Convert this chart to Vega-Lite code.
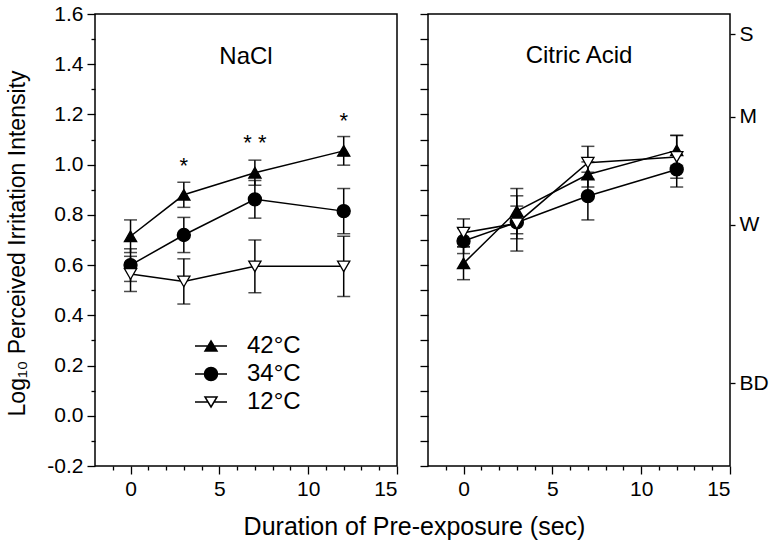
{
  "$schema": "https://vega.github.io/schema/vega-lite/v6.json",
  "padding": {"left": 5, "top": 2, "right": 5, "bottom": 5},
  "spacing": 31,
  "bounds": "flush",
  "datasets": {
    "d": [
      {"panel": "NaCl", "series": "42°C", "t": 0, "v": 0.715, "se": 0.065},
      {"panel": "NaCl", "series": "42°C", "t": 3, "v": 0.88, "se": 0.05},
      {"panel": "NaCl", "series": "42°C", "t": 7, "v": 0.968, "se": 0.05},
      {"panel": "NaCl", "series": "42°C", "t": 12, "v": 1.055, "se": 0.057},
      {"panel": "NaCl", "series": "34°C", "t": 0, "v": 0.6, "se": 0.065},
      {"panel": "NaCl", "series": "34°C", "t": 3, "v": 0.72, "se": 0.07},
      {"panel": "NaCl", "series": "34°C", "t": 7, "v": 0.862, "se": 0.075},
      {"panel": "NaCl", "series": "34°C", "t": 12, "v": 0.815, "se": 0.09},
      {"panel": "NaCl", "series": "12°C", "t": 0, "v": 0.565, "se": 0.07},
      {"panel": "NaCl", "series": "12°C", "t": 3, "v": 0.535, "se": 0.09},
      {"panel": "NaCl", "series": "12°C", "t": 7, "v": 0.595, "se": 0.105},
      {"panel": "NaCl", "series": "12°C", "t": 12, "v": 0.595, "se": 0.12},
      {"panel": "Citric Acid", "series": "42°C", "t": 0, "v": 0.607, "se": 0.065},
      {"panel": "Citric Acid", "series": "42°C", "t": 3, "v": 0.815, "se": 0.09},
      {"panel": "Citric Acid", "series": "42°C", "t": 7, "v": 0.961, "se": 0.05},
      {"panel": "Citric Acid", "series": "42°C", "t": 12, "v": 1.057, "se": 0.06},
      {"panel": "Citric Acid", "series": "34°C", "t": 0, "v": 0.696, "se": 0.05},
      {"panel": "Citric Acid", "series": "34°C", "t": 3, "v": 0.77, "se": 0.065},
      {"panel": "Citric Acid", "series": "34°C", "t": 7, "v": 0.875, "se": 0.095},
      {"panel": "Citric Acid", "series": "34°C", "t": 12, "v": 0.981, "se": 0.07},
      {"panel": "Citric Acid", "series": "12°C", "t": 0, "v": 0.729, "se": 0.055},
      {"panel": "Citric Acid", "series": "12°C", "t": 3, "v": 0.766, "se": 0.11},
      {"panel": "Citric Acid", "series": "12°C", "t": 7, "v": 1.008, "se": 0.065},
      {"panel": "Citric Acid", "series": "12°C", "t": 12, "v": 1.031, "se": 0.085}
    ],
    "stars": [
      {"t": 3, "v": 0.967, "s": "*"},
      {"t": 7, "v": 1.058, "s": "* *"},
      {"t": 12, "v": 1.146, "s": "*"}
    ]
  },
  "hconcat": [
    {
      "width": 302,
      "height": 452,
      "title": {"text": "NaCl", "orient": "top", "anchor": "middle", "offset": -66, "fontSize": 24, "fontWeight": "normal", "font": "Liberation Sans", "color": "black"},
      "data": {"name": "d"},
      "transform": [{"filter": "datum.panel === 'NaCl'"}],
      "resolve": {"axis": {"x": "independent", "y": "independent"}},
      "layer": [
        {
          "mark": {"type": "line", "color": "black", "strokeWidth": 1.5},
          "encoding": {
            "x": {"field": "t", "type": "quantitative", "scale": {"domain": [-2, 15], "nice": false, "zero": false},
                  "axis": {"orient": "bottom", "values": [0, 5, 10, 15], "tickSize": 8, "labelPadding": 4, "title": "Duration of Pre-exposure (sec)", "titleX": 319, "titleY": 60, "titleAlign": "center", "titleBaseline": "middle", "titleFontSize": 25}},
            "y": {"field": "v", "type": "quantitative", "scale": {"domain": [-0.2, 1.6], "nice": false, "zero": false},
                  "axis": {"orient": "left", "values": [-0.2, 0, 0.2, 0.4, 0.6, 0.8, 1, 1.2, 1.4, 1.6], "tickSize": 8, "labelPadding": 4,
                           "labelExpr": "datum.value < 0 ? '-' + format(-datum.value, '.1f') : format(datum.value, '.1f')",
                           "title": "Log₁₀ Perceived Irritation Intensity", "titleX": -78, "titleY": 229, "titleAngle": -90, "titleAlign": "center", "titleBaseline": "middle", "titleFontSize": 23}},
            "detail": {"field": "series"}
          }
        },
        {
          "mark": {"type": "errorbar", "color": "black", "ticks": {"size": 13, "thickness": 1.5}, "rule": {"strokeWidth": 1.5}},
          "encoding": {
            "x": {"field": "t", "type": "quantitative", "axis": null},
            "y": {"field": "v", "type": "quantitative", "axis": null},
            "yError": {"field": "se"},
            "detail": {"field": "series"}
          }
        },
        {
          "mark": {"type": "point", "filled": true, "stroke": "black", "strokeWidth": 1.3, "opacity": 1},
          "encoding": {
            "x": {"field": "t", "type": "quantitative",
                  "axis": {"orient": "bottom", "values": [-1, 1, 2, 3, 4, 6, 7, 8, 9, 11, 12, 13, 14], "tickSize": 4, "labels": false, "title": null}},
            "y": {"field": "v", "type": "quantitative",
                  "axis": {"orient": "left", "values": [-0.1, 0.1, 0.3, 0.5, 0.7, 0.9, 1.1, 1.3, 1.5], "tickSize": 4, "labels": false, "title": null}},
            "shape": {"condition": [{"test": "datum.series === '42°C'", "value": "triangle-up"}, {"test": "datum.series === '12°C'", "value": "triangle-down"}], "value": "circle"},
            "fill": {"condition": {"test": "datum.series === '12°C'", "value": "white"}, "value": "black"},
            "size": {"condition": {"test": "datum.series === '34°C'", "value": 170}, "value": 150}
          }
        },
        {
          "transform": [{"filter": "false"}],
          "mark": {"type": "point", "filled": true, "stroke": "black", "strokeWidth": 1.5},
          "encoding": {
            "x": {"field": "t", "type": "quantitative", "axis": null},
            "y": {"field": "v", "type": "quantitative", "axis": null},
            "shape": {"field": "series", "type": "nominal",
                      "scale": {"domain": ["42°C", "34°C", "12°C"],
                                "range": ["M-1.6,0H-0.3M0.3,0H1.6M0,-0.5L0.6,0.5L-0.6,0.5Z",
                                          "M-1.6,0H-0.65M0.65,0H1.6M-0.65,0A0.65,0.65,0,1,0,0.65,0A0.65,0.65,0,1,0,-0.65,0Z",
                                          "M-1.6,0H-0.3M0.3,0H1.6M0,0.5L0.6,-0.5L-0.6,-0.5Z"]},
                      "legend": {"orient": "none", "legendX": 104, "legendY": 320, "title": null, "padding": 0, "rowPadding": 4, "labelOffset": 24,
                                 "symbolSize": 400, "symbolStrokeColor": "black", "symbolStrokeWidth": 1.5, "symbolOpacity": 1,
                                 "labelFontSize": 24, "labelFont": "Liberation Sans", "labelColor": "black"}},
            "fill": {"field": "series", "type": "nominal",
                     "scale": {"domain": ["42°C", "34°C", "12°C"], "range": ["black", "black", "white"]},
                     "legend": {"orient": "none", "legendX": 104, "legendY": 320, "title": null, "padding": 0, "rowPadding": 4, "labelOffset": 24,
                                "symbolSize": 400, "symbolStrokeColor": "black", "symbolStrokeWidth": 1.5, "symbolOpacity": 1,
                                "labelFontSize": 24, "labelFont": "Liberation Sans", "labelColor": "black"}},
            "stroke": {"field": "series", "type": "nominal",
                       "scale": {"domain": ["42°C", "34°C", "12°C"], "range": ["black", "black", "black"]},
                       "legend": {"orient": "none", "legendX": 104, "legendY": 320, "title": null, "padding": 0, "rowPadding": 4, "labelOffset": 24,
                                  "symbolSize": 400, "symbolStrokeColor": "black", "symbolStrokeWidth": 1.5, "symbolOpacity": 1,
                                  "labelFontSize": 24, "labelFont": "Liberation Sans", "labelColor": "black"}}
          }
        },
        {
          "data": {"name": "stars"},
          "mark": {"type": "text", "fontSize": 22, "baseline": "alphabetic", "color": "black", "font": "Liberation Sans"},
          "encoding": {
            "x": {"field": "t", "type": "quantitative", "axis": null},
            "y": {"field": "v", "type": "quantitative", "axis": null},
            "text": {"field": "s"}
          }
        }
      ]
    },
    {
      "width": 302,
      "height": 452,
      "title": {"text": "Citric Acid", "orient": "top", "anchor": "middle", "offset": -55, "fontSize": 24, "fontWeight": "normal", "font": "Liberation Sans", "color": "black"},
      "data": {"name": "d"},
      "transform": [{"filter": "datum.panel === 'Citric Acid'"}],
      "resolve": {"axis": {"x": "independent", "y": "independent"}},
      "layer": [
        {
          "mark": {"type": "line", "color": "black", "strokeWidth": 1.5},
          "encoding": {
            "x": {"field": "t", "type": "quantitative", "scale": {"domain": [-2, 15], "nice": false, "zero": false},
                  "axis": {"orient": "bottom", "values": [0, 5, 10, 15], "tickSize": 8, "labelPadding": 4, "title": null}},
            "y": {"field": "v", "type": "quantitative", "scale": {"domain": [-0.2, 1.6], "nice": false, "zero": false},
                  "axis": {"orient": "left", "values": [-0.2, -0.1, 0, 0.1, 0.2, 0.3, 0.4, 0.5, 0.6, 0.7, 0.8, 0.9, 1, 1.1, 1.2, 1.3, 1.4, 1.5, 1.6], "tickSize": 8, "labels": false, "title": null}},
            "detail": {"field": "series"}
          }
        },
        {
          "mark": {"type": "errorbar", "color": "black", "ticks": {"size": 13, "thickness": 1.5}, "rule": {"strokeWidth": 1.5}},
          "encoding": {
            "x": {"field": "t", "type": "quantitative", "axis": null},
            "y": {"field": "v", "type": "quantitative", "axis": null},
            "yError": {"field": "se"},
            "detail": {"field": "series"}
          }
        },
        {
          "mark": {"type": "point", "filled": true, "stroke": "black", "strokeWidth": 1.3, "opacity": 1},
          "encoding": {
            "x": {"field": "t", "type": "quantitative",
                  "axis": {"orient": "bottom", "values": [-1, 1, 2, 3, 4, 6, 7, 8, 9, 11, 12, 13, 14], "tickSize": 4, "labels": false, "title": null}},
            "y": {"field": "v", "type": "quantitative",
                  "axis": {"orient": "right", "values": [1.52, 1.19, 0.76, 0.13], "tickSize": 5, "labelPadding": 4, "labelFontSize": 21,
                           "labelExpr": "datum.value > 1.4 ? 'S' : datum.value > 1 ? 'M' : datum.value > 0.5 ? 'W' : 'BD'", "title": null}},
            "shape": {"condition": [{"test": "datum.series === '42°C'", "value": "triangle-up"}, {"test": "datum.series === '12°C'", "value": "triangle-down"}], "value": "circle"},
            "fill": {"condition": {"test": "datum.series === '12°C'", "value": "white"}, "value": "black"},
            "size": {"condition": {"test": "datum.series === '34°C'", "value": 170}, "value": 150}
          }
        }
      ]
    }
  ],
  "config": {
    "font": "Liberation Sans",
    "background": "white",
    "view": {"stroke": "black", "strokeWidth": 1.5},
    "axis": {"domain": false, "grid": false, "tickColor": "black", "tickWidth": 1.3, "labelColor": "black", "labelFont": "Liberation Sans", "labelFontSize": 21, "titleFont": "Liberation Sans", "titleFontWeight": "normal", "titleColor": "black"}
  }
}
